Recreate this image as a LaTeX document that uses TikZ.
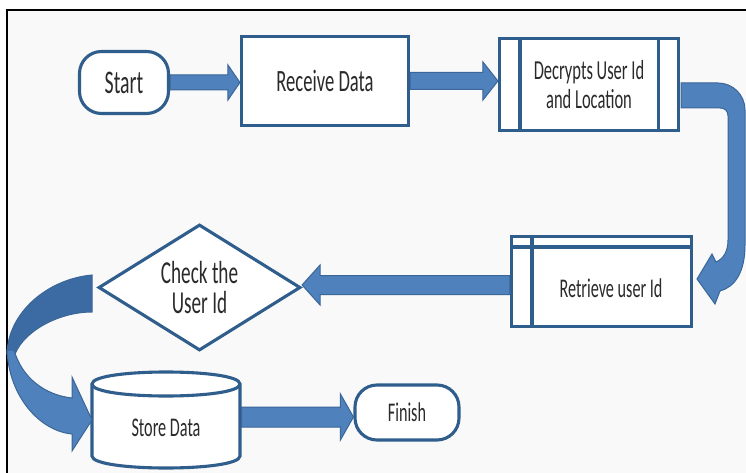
\documentclass[tikz,border=0pt]{standalone}
\usepackage{fontspec}
\setmainfont{Carlito}
\newfontfamily\cf[FakeStretch=0.6]{Carlito}
\usetikzlibrary{shapes.geometric,calc}
\definecolor{boxline}{HTML}{2F5D8C}
\definecolor{afill}{HTML}{4F81BD}
\definecolor{aline}{HTML}{3A6698}
\definecolor{adark}{HTML}{3C6AA3}
\definecolor{txt}{HTML}{2A2A2A}
\definecolor{bg}{HTML}{F9F9F9}
\tikzset{
  box/.style={draw=boxline, line width=3.1pt, fill=white, inner sep=0pt, text=txt, font=\cf, align=center},
  term/.style={box, rounded corners=22pt},
  blockarrow/.style={fill=afill, draw=aline, line width=1pt, line join=miter},
  innerline/.style={draw=boxline, line width=3.1pt},
}
% from, to, shaft half, head half, signed head length
\newcommand\barrow[5]{%
  \path[blockarrow] let \p1=(#1), \p2=(#2), \n1={\x2-(#5pt)} in
   ({\x1},{\y1+#3pt}) -- ({\n1},{\y1+#3pt}) -- ({\n1},{\y1+#4pt}) -- ({\x2},{\y1})
   -- ({\n1},{\y1-#4pt}) -- ({\n1},{\y1-#3pt}) -- ({\x1},{\y1-#3pt}) -- cycle;
}
\begin{document}
\begin{tikzpicture}[x=1pt,y=-1pt]
\useasboundingbox (0,0) rectangle (746,473);
\clip (0,0) rectangle (746,473);
\fill[white] (0,0) rectangle (746,473);
\fill[bg] (7,10) rectangle (760,490);
\draw[black, line width=2.5pt] (7,490) -- (7,10) -- (760,10);

% nodes
\node[term, minimum width=89pt, minimum height=62pt, font=\cf\fontsize{33pt}{36pt}\selectfont] (start) at (124,82.5) {Start};
\node[box, minimum width=167pt, minimum height=89pt, font=\cf\fontsize{31pt}{34pt}\selectfont] (receive) at (325,81) {Receive Data};
\node[box, minimum width=179pt, minimum height=92pt, font=\cf\fontsize{27.5pt}{29pt}\selectfont] (dec) at (589,84.5) {Decrypts User Id\\and Location};
\draw[innerline] ([xshift=22pt]dec.north west) -- ([xshift=22pt]dec.south west);
\draw[innerline] ([xshift=-22pt]dec.north east) -- ([xshift=-22pt]dec.south east);
\node[box, minimum width=180pt, minimum height=90pt] (retr) at (601.5,281.5) {};
\draw[innerline] ([yshift=-12pt]retr.north west) -- ([yshift=-12pt]retr.north east);
\draw[innerline] ([xshift=22pt]retr.north west) -- ([xshift=22pt]retr.south west);
\node[text=txt, font=\cf\fontsize{27pt}{30pt}\selectfont, inner sep=0pt] (retrtext) at (611,288) {Retrieve user Id};
\node[box, diamond, shape aspect=1.6, minimum width=202pt, minimum height=126pt, font=\cf\fontsize{32pt}{30pt}\selectfont] (check) at (199.5,287.5) {Check the\\User Id};

% cylinder
\draw[boxline, line width=3.1pt, fill=white] (92,384) -- (92,456) .. controls (92,472) and (240,472) .. (240,456) -- (240,384) .. controls (240,368) and (92,368) .. (92,384) -- cycle;
\draw[boxline, line width=3.1pt] (92,384) .. controls (92,400) and (240,400) .. (240,384);
\node[inner sep=0pt, minimum width=151pt, minimum height=70pt, text=txt, font=\cf\fontsize{27pt}{30pt}\selectfont] (store) at (166,428) {Store Data};

\node[term, minimum width=104pt, minimum height=55pt, font=\cf\fontsize{27pt}{30pt}\selectfont] (finish) at (407,412.5) {Finish};

% straight block arrows
\barrow{start.east}{receive.west}{7.5}{17.5}{12}
\barrow{[yshift=-3.5pt]retr.west}{check.east}{9.5}{20}{-18}
\barrow{receive.east}{dec.west}{8.5}{19}{15}
\barrow{[yshift=11pt]store.east}{finish.west}{10}{23}{13}

% curved arrow: Decrypts -> Retrieve
\path[blockarrow] (681,83) -- (718,83) .. controls (733,83) and (745,95) .. (745,110)
  -- (745,245) .. controls (745,272) and (735,287) .. (720,291) -- (715,304) -- (697,279)
  -- (712,254) -- (716,262) .. controls (723,259) and (728,252) .. (728,240)
  -- (728,116) .. controls (728,111) and (725,108) .. (720,108) -- (681,108) -- cycle;

% curved arrow: Check -> Store
\path[blockarrow, fill=adark] (92,275) .. controls (48,279) and (8,312) .. (7,354)
  -- (15,354) .. controls (25,330) and (60,312) .. (92,312) -- cycle;
\path[blockarrow] (7,350) .. controls (9,397) and (40,431) .. (72,434) -- (72,451) -- (92,420)
  -- (72,377) -- (72,398) .. controls (45,395) and (22,378) .. (14,350) -- cycle;
\end{tikzpicture}
\end{document}
